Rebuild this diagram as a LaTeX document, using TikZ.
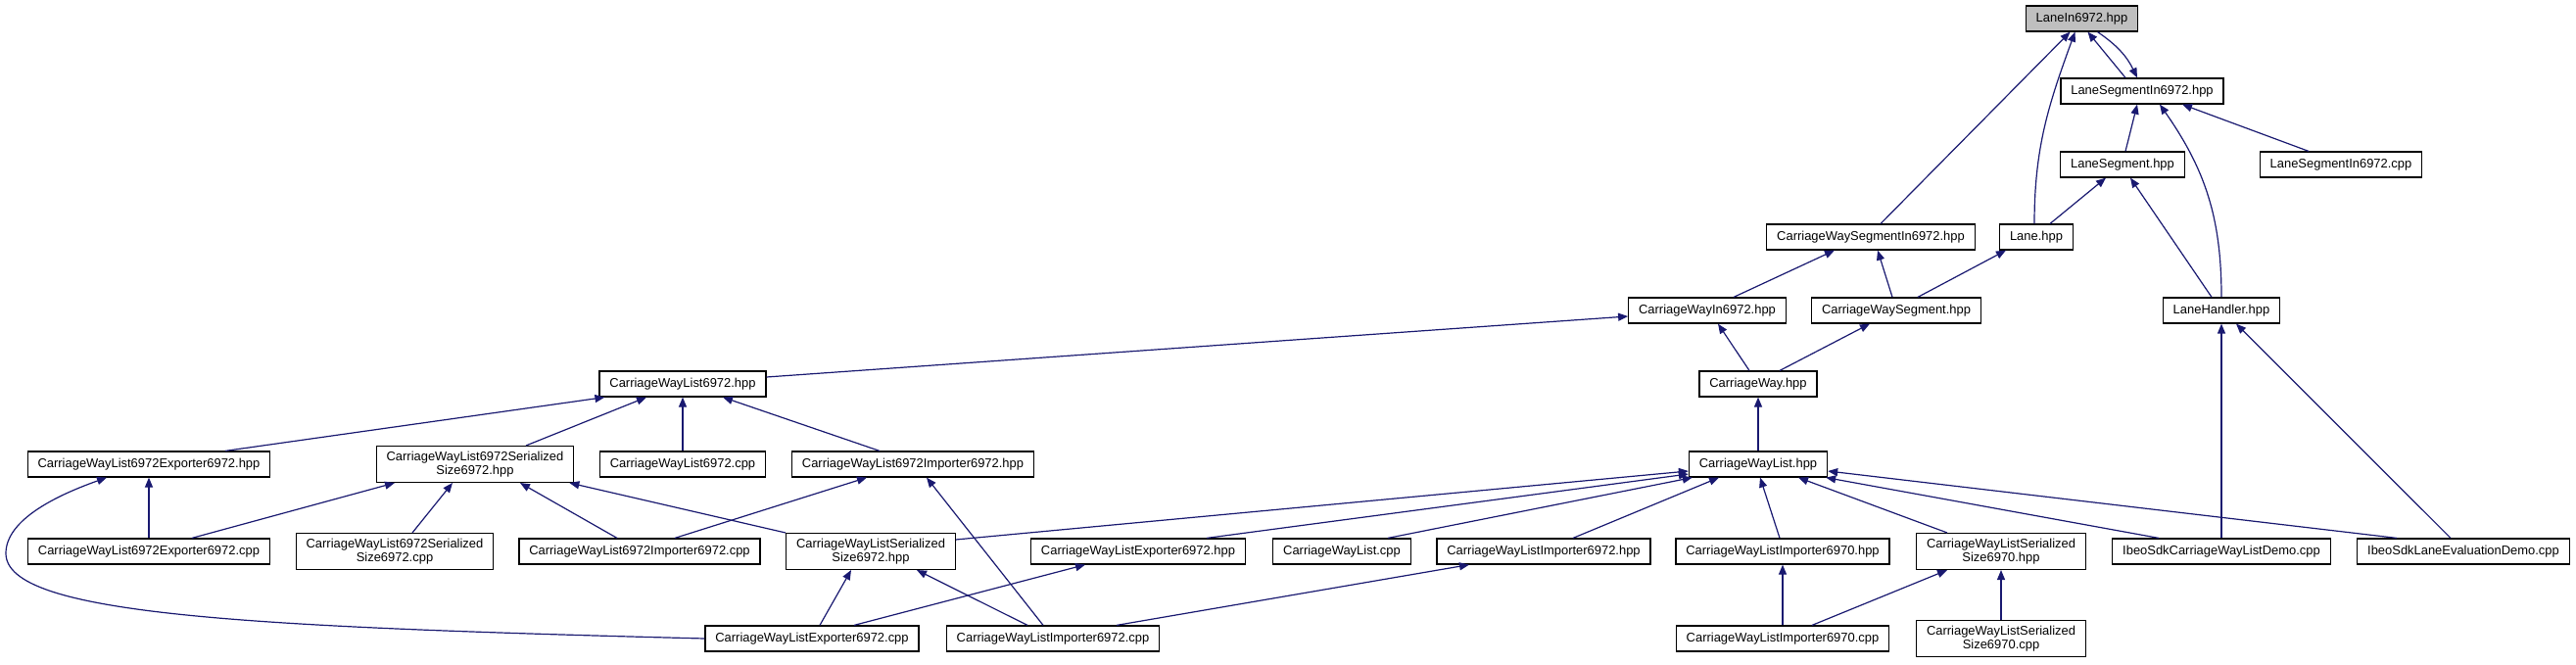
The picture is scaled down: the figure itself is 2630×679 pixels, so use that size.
\documentclass[tikz,border=0pt]{standalone}
\usepackage{fontspec}
\setmainfont{Liberation Sans}
\usepackage{xcolor}
\usepackage{tikz}
\usetikzlibrary{arrows.meta}
\definecolor{incnavy}{RGB}{25,25,112}
\definecolor{incgray}{RGB}{191,191,191}
\tikzset{
  incbox/.style={
    rectangle,
    draw=black,
    line width=0.6pt,
    fill=white,
    align=center,
    minimum height=13pt,
    inner xsep=5.2pt,
    inner ysep=2.6pt,
    font=\fontsize{6.47}{7.2}\selectfont
  },
  incroot/.style={
    incbox,
    fill=incgray
  },
  incarrow/.style={
    -{Triangle[length=5pt,width=4pt]},
    line width=0.6pt,
    draw=incnavy
  }
}

\begin{document}
\begin{tikzpicture}[x=0.5pt, y=-0.5pt]
\useasboundingbox (0,0) rectangle (2630,679);
\node[incroot] (lanein) at (2125.5,19) {LaneIn6972.hpp};
\node[incbox] (lanesegin) at (2187,93) {LaneSegmentIn6972.hpp};
\node[incbox] (laneseg) at (2167,168) {LaneSegment.hpp};
\node[incbox] (lanesegincpp) at (2390,168) {LaneSegmentIn6972.cpp};
\node[incbox] (cwsegin) at (1910,242) {CarriageWaySegmentIn6972.hpp};
\node[incbox] (lane) at (2079,242) {Lane.hpp};
\node[incbox] (cwin) at (1743,317) {CarriageWayIn6972.hpp};
\node[incbox] (cwseg) at (1936,317) {CarriageWaySegment.hpp};
\node[incbox] (lanehandler) at (2268,317) {LaneHandler.hpp};
\node[incbox] (cwl6972) at (697,392) {CarriageWayList6972.hpp};
\node[incbox] (cw) at (1795,392) {CarriageWay.hpp};
\node[incbox] (cwl6972exphpp) at (152,474) {CarriageWayList6972Exporter6972.hpp};
\node[incbox] (cwl6972sizehpp) at (485,474) {CarriageWayList6972Serialized\\Size6972.hpp};
\node[incbox] (cwl6972cpp) at (697,474) {CarriageWayList6972.cpp};
\node[incbox] (cwl6972imphpp) at (932,474) {CarriageWayList6972Importer6972.hpp};
\node[incbox] (cwl) at (1795,474) {CarriageWayList.hpp};
\node[incbox] (cwl6972expcpp) at (152,563) {CarriageWayList6972Exporter6972.cpp};
\node[incbox] (cwl6972sizecpp) at (403,563) {CarriageWayList6972Serialized\\Size6972.cpp};
\node[incbox] (cwl6972impcpp) at (653,563) {CarriageWayList6972Importer6972.cpp};
\node[incbox] (cwlsizehpp) at (889,563) {CarriageWayListSerialized\\Size6972.hpp};
\node[incbox] (cwlexphpp) at (1162,563) {CarriageWayListExporter6972.hpp};
\node[incbox] (cwlcpp) at (1370,563) {CarriageWayList.cpp};
\node[incbox] (cwlimphpp) at (1576,563) {CarriageWayListImporter6972.hpp};
\node[incbox] (cwlimp6970hpp) at (1820,563) {CarriageWayListImporter6970.hpp};
\node[incbox] (cwlsize6970hpp) at (2043,563) {CarriageWayListSerialized\\Size6970.hpp};
\node[incbox] (ibeocwl) at (2268,563) {IbeoSdkCarriageWayListDemo.cpp};
\node[incbox] (ibeolane) at (2515,563) {IbeoSdkLaneEvaluationDemo.cpp};
\node[incbox] (cwlexpcpp) at (829,652) {CarriageWayListExporter6972.cpp};
\node[incbox] (cwlimpcpp) at (1075,652) {CarriageWayListImporter6972.cpp};
\node[incbox] (cwlimp6970cpp) at (1820,652) {CarriageWayListImporter6970.cpp};
\node[incbox] (cwlsize6970cpp) at (2043,652) {CarriageWayListSerialized\\Size6970.cpp};
\coordinate (loopw) at (6,565);

\draw[incarrow] ([xshift=-8.5pt]lanesegin.north) -- ([xshift=3pt]lanein.south);
\draw[incarrow] ([xshift=8pt]lanein.south) to[bend left=15] ([xshift=-2.5pt]lanesegin.north);
\draw[incarrow] ([xshift=5pt]cwsegin.north) -- ([xshift=-6pt]lanein.south);
\draw[incarrow] ([xshift=-1pt]lane.north) to[out=90,in=-110] ([xshift=-3.5pt]lanein.south);
\draw[incarrow] ([xshift=1.5pt]laneseg.north) -- ([xshift=-2.5pt]lanesegin.south);
\draw[incarrow] (lanehandler.north) to[out=90,in=-55] ([xshift=9pt]lanesegin.south);
\draw[incarrow] ([xshift=-16.5pt]lanesegincpp.north) -- ([xshift=20.5pt]lanesegin.south);
\draw[incarrow] ([xshift=7pt]lane.north) -- ([xshift=-8.5pt]laneseg.south);
\draw[incarrow] ([xshift=-5pt]lanehandler.north) -- ([xshift=4pt]laneseg.south);
\draw[incarrow] ([xshift=13.5pt]cwin.north) -- ([xshift=-18.5pt]cwsegin.south);
\draw[incarrow] ([xshift=-2pt]cwseg.north) -- ([xshift=3.5pt]cwsegin.south);
\draw[incarrow] ([xshift=11pt]cwseg.north) -- ([xshift=-15.5pt]lane.south);
\draw[incarrow] ([yshift=3.5pt]cwl6972.east) -- ([yshift=-3pt]cwin.west);
\draw[incarrow] ([xshift=-4.5pt]cw.north) -- ([xshift=5.5pt]cwin.south);
\draw[incarrow] ([xshift=11pt]cw.north) -- ([xshift=-13.5pt]cwseg.south);
\draw[incarrow] (ibeocwl.north) -- (lanehandler.south);
\draw[incarrow] ([xshift=-6.5pt]ibeolane.north) -- ([xshift=7.5pt]lanehandler.south);
\draw[incarrow] (cwl.north) -- (cw.south);
\draw[incarrow] ([xshift=39pt]cwl6972exphpp.north) -- ([xshift=3pt]cwl6972.south west);
\draw[incarrow] ([xshift=26pt]cwl6972sizehpp.north) -- ([xshift=-18.5pt]cwl6972.south);
\draw[incarrow] (cwl6972cpp.north) -- (cwl6972.south);
\draw[incarrow] ([xshift=-17pt]cwl6972imphpp.north) -- ([xshift=20.5pt]cwl6972.south);
\draw[incarrow] ([yshift=-3.5pt]cwlsizehpp.north east) -- ([yshift=-3.5pt]cwl.west);
\draw[incarrow] ([xshift=35pt]cwlexphpp.north) -- ([yshift=-5pt]cwl.west);
\draw[incarrow] ([xshift=23.5pt]cwlcpp.north) -- ([xshift=2pt]cwl.south west);
\draw[incarrow] ([xshift=15pt]cwlimphpp.north) -- ([xshift=-20pt]cwl.south);
\draw[incarrow] ([xshift=-1.5pt]cwlimp6970hpp.north) -- ([xshift=1pt]cwl.south);
\draw[incarrow] ([xshift=-27.5pt]cwlsize6970hpp.north) -- ([xshift=20.5pt]cwl.south);
\draw[incarrow] ([xshift=-32pt]ibeocwl.north) -- ([xshift=-1pt]cwl.south east);
\draw[incarrow] ([xshift=-34pt]ibeolane.north) -- ([yshift=-3.5pt]cwl.east);
\draw[incarrow] (cwl6972expcpp.north) -- (cwl6972exphpp.south);
\draw[incarrow] (cwlexpcpp.west) .. controls (250,640) and (6,628) .. (loopw) .. controls (6,530) and (60,505) .. ([xshift=-21.5pt]cwl6972exphpp.south);
\draw[incarrow] ([xshift=22pt]cwl6972expcpp.north) -- ([xshift=-41pt]cwl6972sizehpp.south);
\draw[incarrow] ([xshift=9pt]cwl6972sizecpp.north) -- ([xshift=-11.5pt]cwl6972sizehpp.south);
\draw[incarrow] ([xshift=-11.5pt]cwl6972impcpp.north) -- ([xshift=23pt]cwl6972sizehpp.south);
\draw[incarrow] (cwlsizehpp.north west) -- ([xshift=-2.5pt]cwl6972sizehpp.south east);
\draw[incarrow] ([xshift=18pt]cwl6972impcpp.north) -- ([xshift=-23.5pt]cwl6972imphpp.south);
\draw[incarrow] ([xshift=-5pt]cwlimpcpp.north) -- ([xshift=7pt]cwl6972imphpp.south);
\draw[incarrow] ([xshift=4pt]cwlexpcpp.north) -- ([xshift=-10pt]cwlsizehpp.south);
\draw[incarrow] ([xshift=-13pt]cwlimpcpp.north) -- ([xshift=23.5pt]cwlsizehpp.south);
\draw[incarrow] ([xshift=21.5pt]cwlexpcpp.north) -- ([xshift=-27pt]cwlexphpp.south);
\draw[incarrow] ([xshift=32.5pt]cwlimpcpp.north) -- ([xshift=-38pt]cwlimphpp.south);
\draw[incarrow] (cwlimp6970cpp.north) -- (cwlimp6970hpp.south);
\draw[incarrow] ([xshift=15pt]cwlimp6970cpp.north) -- ([xshift=-27.5pt]cwlsize6970hpp.south);
\draw[incarrow] (cwlsize6970cpp.north) -- (cwlsize6970hpp.south);
\end{tikzpicture}
\end{document}
